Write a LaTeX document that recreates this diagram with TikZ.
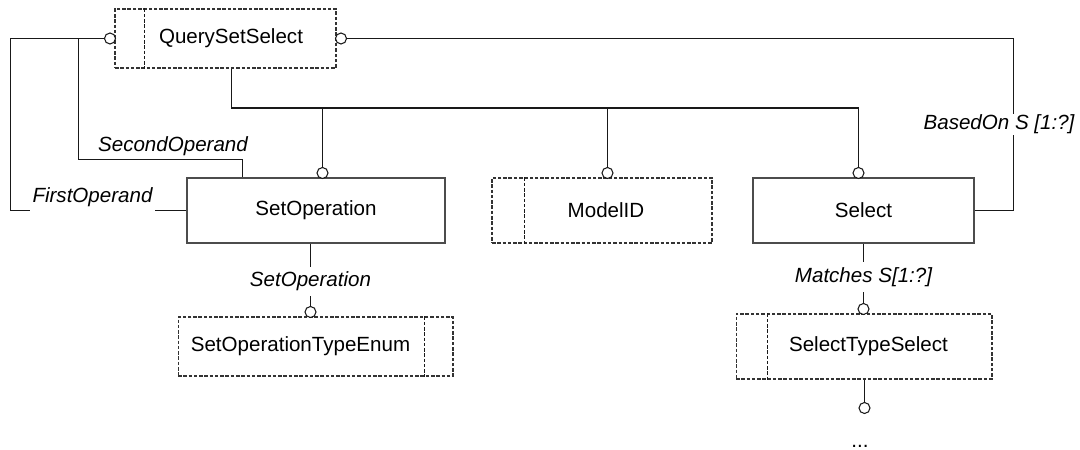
\documentclass[tikz,border=0pt]{standalone}
\usepackage{fontspec}
\setmainfont{Liberation Sans}
\usetikzlibrary{calc}

\tikzset{
  ent/.style={draw=black!70, line width=0.6pt, inner sep=0pt,
    minimum height=1.3cm, font=\fontsize{11.7}{14}\selectfont},
  dent/.style={ent, draw=black!80, dash pattern=on 2pt off 1pt},
  lnk/.style={draw=black!90, line width=0.6pt},
  ring/.style={circle, draw=black!90, fill=white, line width=0.6pt,
    inner sep=0pt, minimum size=0.22cm},
  role/.style={font=\fontsize{11.7}{14}\selectfont\itshape, inner sep=1pt},
  gap/.style={role, fill=white, inner xsep=1.5pt}
}

\begin{document}
\begin{tikzpicture}[x=0.02cm, y=-0.02cm]

    % Keep the page at the size of the reference
    \path[use as bounding box] (0,0) rectangle (1080,450);

    % The entities
    \node[dent, minimum width=4.42cm, minimum height=1.18cm] (qss) at (225.5,38.5) {\kern0.22cm QuerySetSelect};
    \node[ent, minimum width=5.16cm] (sop) at (316,210.5) {SetOperation};
    \node[dent, minimum width=4.4cm] (mid) at (602,210.5) {\kern0.16cm ModelID};
    \node[ent, minimum width=4.42cm] (sel) at (863.5,210.5) {Select};
    \node[dent, minimum width=5.5cm, minimum height=1.18cm] (ste) at (315.5,346.5) {SetOperationTypeEnum\kern0.6cm};
    \node[dent, minimum width=5.12cm] (sts) at (864,346.5) {\kern0.18cm SelectTypeSelect};

    % The inner bars of the select and enum boxes
    \draw[lnk, dash pattern=on 2pt off 1pt] ($(qss.north west)+(30,0)$) -- ($(qss.south west)+(30,0)$);
    \draw[lnk, dash pattern=on 2pt off 1pt] ($(mid.north west)+(33,0)$) -- ($(mid.south west)+(33,0)$);
    \draw[lnk, dash pattern=on 2pt off 1pt] ($(ste.north east)+(-29,0)$) -- ($(ste.south east)+(-29,0)$);
    \draw[lnk, dash pattern=on 2pt off 1pt] ($(sts.north west)+(32,0)$) -- ($(sts.south west)+(32,0)$);

    % The small rings where the relations end
    \node[ring] (qcl) at (110,38.5) {};
    \node[ring] (qcr) at (341,38.5) {};
    \node[ring] (sopr) at (322.5,173) {};
    \node[ring] (midr) at (607.5,173) {};
    \node[ring] (selr) at (858.5,173) {};
    \node[ring] (ster) at (310.5,312) {};
    \node[ring] (stsr) at (863.5,309) {};
    \node[ring] (endr) at (864.5,408) {};

    % The select branches out to its three types
    \draw[lnk] ($(qss.south)+(6,0)$) -- ++(0,39.5) coordinate (bus) -| (selr.north);
    \draw[lnk] (sopr.north) -- (sopr.north |- bus);
    \draw[lnk] (midr.north) -- (midr.north |- bus);

    % The two operands of the set operation
    \draw[lnk] (qcl.west) -- ++(-93.5,0) |- node[gap, pos=0.733, yshift=0.26cm, inner ysep=4pt] (fop) {FirstOperand} (sop.west);
    \draw[lnk] (qcl.west) -- ++(-25.5,0) |- ++(164,121) coordinate (so2) -- (so2 |- sop.north);
    \node[role, above] (sopl) at (173,158) {SecondOperand};

    % BasedOn goes round to the right side of Select
    \draw[lnk] (qcr.east) -- ++(666,0) |- node[gap, pos=0.25, xshift=-0.28cm, inner ysep=0.5pt] (bas) {BasedOn S [1:?]} (sel.east);

    % Attributes below the entities
    \draw[lnk] (ster.north) -- node[gap, pos=0.39, inner ysep=3pt] (sopa) {SetOperation} (ster.north |- sop.south);
    \draw[lnk] (stsr.north) -- node[gap, pos=0.44, inner ysep=3pt] (mat) {Matches S[1:?]} (stsr.north |- sel.south);
    \draw[lnk] (endr.north) -- (endr.north |- sts.south);
    \node[anchor=base, inner sep=0pt, font=\fontsize{11.7}{14}\selectfont] (more) at (860,447) {...};

\end{tikzpicture}
\end{document}
